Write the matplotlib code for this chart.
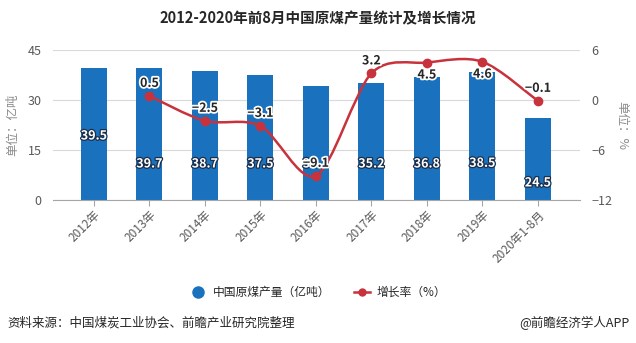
import matplotlib
matplotlib.use('Agg')
import matplotlib.pyplot as plt
import matplotlib.patheffects as pe
from matplotlib.path import Path
from matplotlib.patches import PathPatch
from matplotlib.lines import Line2D
import numpy as np

plt.rcParams['font.family'] = ['Noto Sans CJK SC', 'DejaVu Sans']

years = ['2012年', '2013年', '2014年', '2015年', '2016年', '2017年', '2018年', '2019年', '2020年1-8月']
output = [39.5, 39.7, 38.7, 37.5, 34.1, 35.2, 36.8, 38.5, 24.5]   # 亿吨
growth = [None, 0.5, -2.5, -3.1, -9.1, 3.2, 4.5, 4.6, -0.1]      # %
# 柱内标签的高度（原图位置）
bar_label_y = [19.2, 10.8, 10.8, 10.8, 10.8, 10.8, 10.8, 11.0, 5.1]
# 增长率标签在点的上方(1)或下方(-1)
growth_label_side = [0, 1, 1, 1, 1, 1, -1, -1, 1]

blue = '#1a71bd'
red = '#c8323c'
gray = '#595959'

fig = plt.figure(figsize=(6.36, 3.43), dpi=100)
ax = fig.add_axes([0.083, 0.417, 0.829, 0.437])
ax2 = ax.twinx()

x = np.arange(len(years))
ax.bar(x, output, width=0.47, color=blue, zorder=2)
ax.set_xlim(-0.74, 8.76)
ax.set_ylim(0, 45)
ax.set_yticks([0, 15, 30, 45])
ax.grid(axis='y', color='#d9d9d9', linewidth=0.8, zorder=0)
ax.set_axisbelow(True)
ax.set_xticks(x)
ax.set_xticklabels(years, rotation=45, ha='right', rotation_mode='anchor', fontsize=8.5, color=gray)
ax.tick_params(axis='x', length=4, color='#a6a6a6', pad=2)
ax.tick_params(axis='y', length=0, labelsize=9, labelcolor=gray, pad=8)
for s in ['top', 'right', 'left']:
    ax.spines[s].set_visible(False)
ax.spines['bottom'].set_color('#a6a6a6')
ax.set_ylabel('单位：亿吨', color='#8c8c8c', fontsize=9, labelpad=6)

for xi, v, ly in zip(x, output, bar_label_y):
    ax.text(xi, ly, f'{v}', ha='center', va='center', color='white', fontsize=9, fontweight='bold',
            path_effects=[pe.withStroke(linewidth=1.8, foreground='#1c2f4a')], zorder=5)

# 增长率平滑曲线
gx = [xi for xi, g in zip(x, growth) if g is not None]
gy = [g for g in growth if g is not None]
ax2.set_ylim(-12, 6)
ax2.set_yticks([-12, -6, 0, 6])
ax2.tick_params(axis='y', length=0, labelsize=9, labelcolor=gray, pad=8)
for s in ['top', 'right', 'left', 'bottom']:
    ax2.spines[s].set_visible(False)
ax2.set_ylabel('单位：%', color='#8c8c8c', fontsize=9, rotation=-90, labelpad=12)

pts = np.column_stack([gx, gy]).astype(float)
verts = [tuple(pts[0])]
codes = [Path.MOVETO]
t = 0.3
for i in range(len(pts) - 1):
    p0 = pts[i - 1] if i > 0 else pts[i]
    p1 = pts[i]
    p2 = pts[i + 1]
    p3 = pts[i + 2] if i + 2 < len(pts) else pts[i + 1]
    c1 = p1 + (p2 - p0) * t / 2
    c2 = p2 - (p3 - p1) * t / 2
    verts += [tuple(c1), tuple(c2), tuple(p2)]
    codes += [Path.CURVE4] * 3
ax2.add_patch(PathPatch(Path(verts, codes), facecolor='none', edgecolor=red, linewidth=1.8, zorder=3))
ax2.plot(gx, gy, 'o', color=red, markersize=6, zorder=4)

for xi, g, side in zip(x, growth, growth_label_side):
    if g is None:
        continue
    txt = f'{g}'.replace('-', '−')
    ax2.annotate(txt, (xi, g), xytext=(0, 9 * side), textcoords='offset points',
                 ha='center', va='center', fontsize=9, fontweight='bold', color='#262626',
                 path_effects=[pe.withStroke(linewidth=2.5, foreground='white')], zorder=6)

fig.text(0.5, 0.947, '2012-2020年前8月中国原煤产量统计及增长情况', ha='center', va='center',
         fontsize=10.5, fontweight='bold', color='#262626')

handles = [Line2D([], [], marker='o', color=blue, linestyle='none', markersize=8),
           Line2D([], [], marker='o', color=red, linewidth=1.8, markersize=5)]
fig.legend(handles, ['中国原煤产量（亿吨）', '增长率（%）'], loc='center', bbox_to_anchor=(0.5, 0.148),
           ncol=2, frameon=False, fontsize=8.5, handlelength=1.4, columnspacing=2.0, handletextpad=0.5,
           labelcolor='#262626')

fig.text(0.012, 0.058, '资料来源：中国煤炭工业协会、前瞻产业研究院整理', ha='left', va='center',
         fontsize=9, color='#262626')
fig.text(0.99, 0.058, '@前瞻经济学人APP', ha='right', va='center', fontsize=9, color='#262626')

fig.savefig('out.png', dpi=100)
